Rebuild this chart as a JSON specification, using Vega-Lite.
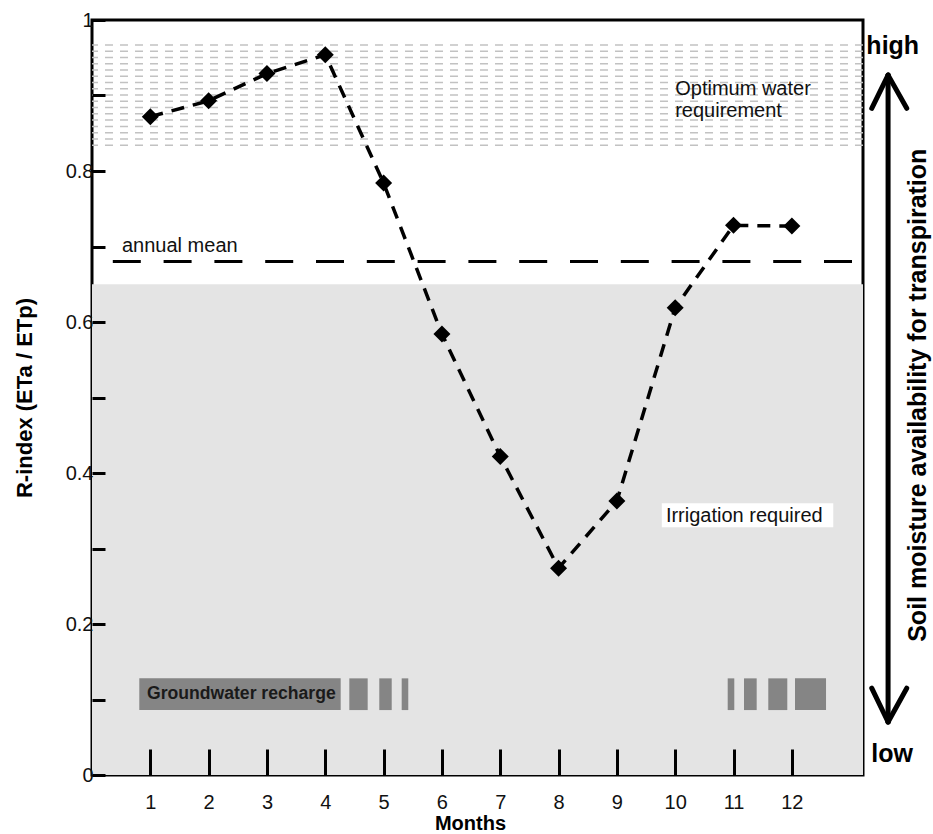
{
  "$schema": "https://vega.github.io/schema/vega-lite/v6.json",
  "width": 771,
  "height": 755,
  "autosize": {"type": "none"},
  "padding": {"left": 92, "top": 20, "right": 70, "bottom": 59},
  "background": "white",
  "config": {
    "font": "Liberation Sans",
    "view": {"stroke": "black", "strokeWidth": 3},
    "axis": {
      "domain": false,
      "grid": false,
      "tickColor": "black",
      "tickWidth": 3,
      "labelColor": "#111",
      "labelFont": "Liberation Sans",
      "labelFontSize": 20,
      "titleFont": "Liberation Sans",
      "titleColor": "black",
      "titleFontWeight": "bold"
    }
  },
  "datasets": {
    "series": [
      {"month": 1, "r": 0.872},
      {"month": 2, "r": 0.893},
      {"month": 3, "r": 0.929},
      {"month": 4, "r": 0.954},
      {"month": 5, "r": 0.784},
      {"month": 6, "r": 0.584},
      {"month": 7, "r": 0.422},
      {"month": 8, "r": 0.274},
      {"month": 9, "r": 0.363},
      {"month": 10, "r": 0.619},
      {"month": 11, "r": 0.728},
      {"month": 12, "r": 0.727}
    ],
    "hatch": [
      {"r": 0.967}, {"r": 0.9587}, {"r": 0.9504}, {"r": 0.9421}, {"r": 0.9338},
      {"r": 0.9255}, {"r": 0.9172}, {"r": 0.9089}, {"r": 0.9006}, {"r": 0.8923},
      {"r": 0.884}, {"r": 0.8757}, {"r": 0.8674}, {"r": 0.8591}, {"r": 0.8508},
      {"r": 0.8425}, {"r": 0.8342}
    ],
    "recharge": [
      {"start": 0.811, "end": 4.264, "lo": 0.086, "hi": 0.128},
      {"start": 4.412, "end": 4.727, "lo": 0.086, "hi": 0.128},
      {"start": 4.926, "end": 5.139, "lo": 0.086, "hi": 0.128},
      {"start": 5.31, "end": 5.423, "lo": 0.086, "hi": 0.128},
      {"start": 10.9, "end": 11.013, "lo": 0.086, "hi": 0.128},
      {"start": 11.18, "end": 11.397, "lo": 0.086, "hi": 0.128},
      {"start": 11.596, "end": 11.922, "lo": 0.086, "hi": 0.128},
      {"start": 12.054, "end": 12.586, "lo": 0.086, "hi": 0.128}
    ],
    "notes": [
      {"x": 10.0, "y": 0.901, "label": "Optimum water"},
      {"x": 10.0, "y": 0.872, "label": "requirement"},
      {"x": 0.514, "y": 0.693, "label": "annual mean"},
      {"x": 9.84, "y": 0.3355, "label": "Irrigation required"}
    ],
    "arrow": [
      {"x": 13.65, "y": 0.927, "x2": 13.65, "y2": 0.0702},
      {"x": 13.65, "y": 0.927, "x2": 13.37, "y2": 0.883},
      {"x": 13.65, "y": 0.927, "x2": 13.97, "y2": 0.883},
      {"x": 13.65, "y": 0.0702, "x2": 13.37, "y2": 0.115},
      {"x": 13.65, "y": 0.0702, "x2": 13.97, "y2": 0.115}
    ]
  },
  "layer": [
    {
      "data": {"values": [{"lo": 0, "hi": 0.65}]},
      "mark": {"type": "rect", "color": "#e4e4e4"},
      "encoding": {
        "x": {"datum": 0, "type": "quantitative", "scale": {"domain": [0, 13.22], "nice": false, "zero": false},
          "axis": {"values": [1,2,3,4,5,6,7,8,9,10,11,12], "format": "d", "tickSize": -26, "labelPadding": 43, "zindex": 2,
            "title": "Months", "titleFontSize": 20, "titleX": 378, "titleY": 48, "titleBaseline": "middle", "titleAlign": "center"}},
        "x2": {"datum": 13.22},
        "y": {"field": "lo", "type": "quantitative", "scale": {"domain": [0, 1], "nice": false},
          "axis": {"values": [0,0.1,0.2,0.3,0.4,0.5,0.6,0.7,0.8,0.9,1], "tickSize": -13, "labelPadding": 12, "zindex": 2,
            "labelExpr": "round(datum.value*10) % 2 == 0 ? format(datum.value, '~g') : ''",
            "title": "R-index (ETa / ETp)", "titleFontSize": 22, "titleX": -68, "titleY": 377.5, "titleBaseline": "middle", "titleAlign": "center", "titleAngle": 270}},
        "y2": {"field": "hi"}
      }
    },
    {
      "data": {"name": "hatch"},
      "mark": {"type": "rule", "color": "#c2c2c2", "strokeWidth": 1.5, "strokeDash": [8, 7]},
      "encoding": {"y": {"field": "r", "type": "quantitative"}}
    },
    {
      "data": {"values": [{"a": 9.77, "b": 12.71, "lo": 0.328, "hi": 0.36}]},
      "mark": {"type": "rect", "color": "white"},
      "encoding": {
        "x": {"field": "a", "type": "quantitative"},
        "x2": {"field": "b"},
        "y": {"field": "lo", "type": "quantitative"},
        "y2": {"field": "hi"}
      }
    },
    {
      "data": {"name": "notes"},
      "mark": {"type": "text", "align": "left", "baseline": "alphabetic", "fontSize": 20, "color": "#111"},
      "encoding": {
        "x": {"field": "x", "type": "quantitative"},
        "y": {"field": "y", "type": "quantitative"},
        "text": {"field": "label"}
      }
    },
    {
      "data": {"values": [{"mean": 0.68}]},
      "mark": {"type": "rule", "color": "black", "strokeWidth": 3, "strokeDash": [28, 22.8], "strokeDashOffset": 39.8},
      "encoding": {"y": {"field": "mean", "type": "quantitative"}}
    },
    {
      "data": {"name": "recharge"},
      "mark": {"type": "rect", "color": "#858585"},
      "encoding": {
        "x": {"field": "start", "type": "quantitative"},
        "x2": {"field": "end"},
        "y": {"field": "lo", "type": "quantitative"},
        "y2": {"field": "hi"}
      }
    },
    {
      "data": {"values": [{"x": 0.943, "y": 0.1003, "label": "Groundwater recharge"}]},
      "mark": {"type": "text", "align": "left", "baseline": "alphabetic", "fontSize": 17.6, "fontWeight": "bold", "color": "#1a1a1a"},
      "encoding": {
        "x": {"field": "x", "type": "quantitative"},
        "y": {"field": "y", "type": "quantitative"},
        "text": {"field": "label"}
      }
    },
    {
      "data": {"name": "series"},
      "mark": {"type": "line", "color": "black", "strokeWidth": 3.5, "strokeDash": [13, 9]},
      "encoding": {
        "x": {"field": "month", "type": "quantitative"},
        "y": {"field": "r", "type": "quantitative"}
      }
    },
    {
      "data": {"name": "series"},
      "mark": {"type": "point", "shape": "diamond", "filled": true, "color": "black", "size": 289, "opacity": 1},
      "encoding": {
        "x": {"field": "month", "type": "quantitative"},
        "y": {"field": "r", "type": "quantitative"}
      }
    },
    {
      "data": {"name": "arrow"},
      "mark": {"type": "rule", "color": "black", "strokeWidth": 5, "strokeCap": "round"},
      "encoding": {
        "x": {"field": "x", "type": "quantitative"},
        "y": {"field": "y", "type": "quantitative"},
        "x2": {"field": "x2"},
        "y2": {"field": "y2"}
      }
    },
    {
      "data": {"values": [{"x": 13.73, "y": 0.955, "label": "high"}, {"x": 13.72, "y": 0.0176, "label": "low"}]},
      "mark": {"type": "text", "align": "center", "baseline": "alphabetic", "fontSize": 25, "fontWeight": "bold", "color": "black"},
      "encoding": {
        "x": {"field": "x", "type": "quantitative"},
        "y": {"field": "y", "type": "quantitative"},
        "text": {"field": "label"}
      }
    },
    {
      "data": {"values": [{"x": 14.17, "y": 0.503, "label": "Soil moisture availability for transpiration"}]},
      "mark": {"type": "text", "align": "center", "baseline": "middle", "angle": 270, "fontSize": 25, "fontWeight": "bold", "color": "black"},
      "encoding": {
        "x": {"field": "x", "type": "quantitative"},
        "y": {"field": "y", "type": "quantitative"},
        "text": {"field": "label"}
      }
    }
  ]
}
